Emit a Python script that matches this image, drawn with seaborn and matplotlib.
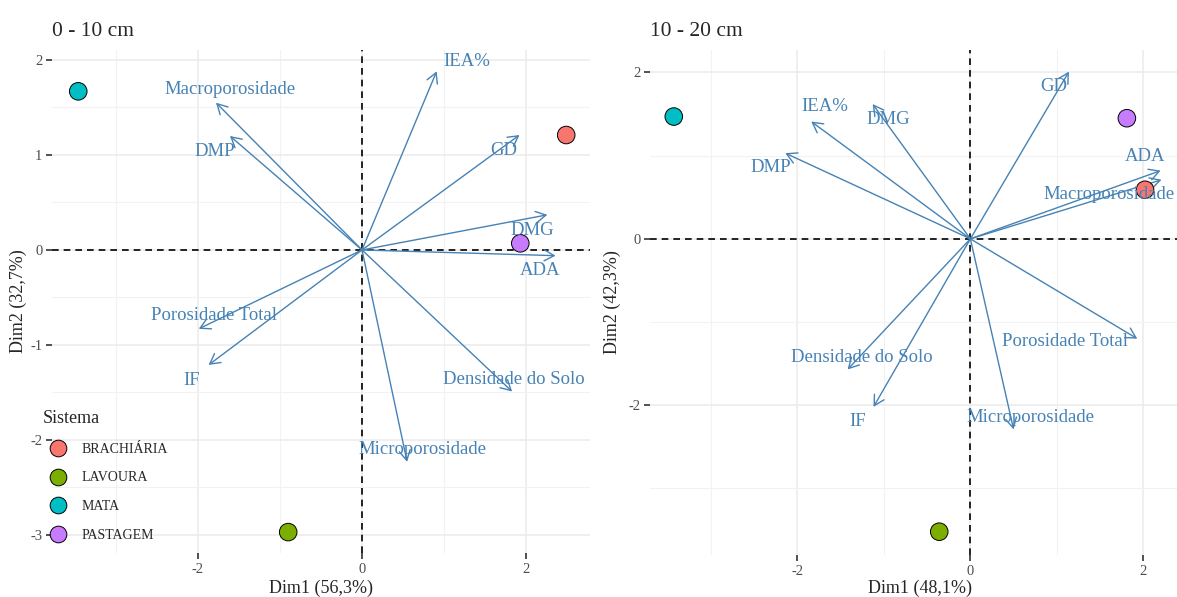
import matplotlib
matplotlib.use("Agg")
import matplotlib.pyplot as plt
from matplotlib.lines import Line2D
from matplotlib.ticker import MultipleLocator
import numpy as np
import pandas as pd
import seaborn as sns

# ---- data -------------------------------------------------------------
sistemas = ["BRACHIÁRIA", "LAVOURA", "MATA", "PASTAGEM"]
cores = ["#F8766D", "#7CAE00", "#00BFC4", "#C77CFF"]

variaveis = ["IEA%", "Macroporosidade", "DMP", "GD", "DMG", "ADA",
             "Porosidade Total", "IF", "Densidade do Solo", "Microporosidade"]

# 0 - 10 cm
ind_dim1_0_10 = [2.49, -0.90, -3.46, 1.93]
ind_dim2_0_10 = [1.21, -2.97, 1.67, 0.07]
var_dim1_0_10 = [0.91, -1.78, -1.61, 1.92, 2.26, 2.36, -1.99, -1.87, 1.83, 0.55]
var_dim2_0_10 = [1.88, 1.55, 1.20, 1.21, 0.37, -0.06, -0.83, -1.21, -1.49, -2.23]

# 10 - 20 cm
ind_dim1_10_20 = [2.02, -0.36, -3.43, 1.81]
ind_dim2_10_20 = [0.59, -3.52, 1.47, 1.45]
var_dim1_10_20 = [-1.84, 2.21, -2.14, 1.14, -1.13, 2.20, 1.93, -1.12, -1.42, 0.50]
var_dim2_10_20 = [1.41, 0.71, 1.03, 2.01, 1.62, 0.82, -1.20, -2.02, -1.57, -2.29]

# label nudges (data units) so the variable names don't sit on the arrow tips
nudge_0_10 = [(0.37, 0.10), (0.17, 0.14), (-0.18, -0.16), (-0.19, -0.16),
              (-0.19, -0.16), (-0.19, -0.16), (0.18, 0.14), (-0.21, -0.16),
              (0.02, 0.13), (0.19, 0.13)]
nudge_10_20 = [(0.16, 0.18), (-0.61, -0.18), (-0.17, -0.17), (-0.18, -0.18),
               (0.18, -0.18), (-0.18, 0.17), (-0.83, -0.03), (-0.18, -0.18),
               (0.17, 0.14), (0.19, 0.14)]

# ---- style ------------------------------------------------------------
sns.set_theme(style="white")
plt.rcParams["font.family"] = ["Liberation Serif", "DejaVu Serif"]
plt.rcParams["axes.unicode_minus"] = False

SETA = "#4682B4"
W, H = 1177, 597
fig = plt.figure(figsize=(W / 100, H / 100), dpi=100)

ax1 = fig.add_axes([52 / W, (H - 553) / H, 538 / W, 503 / H])
ax2 = fig.add_axes([650 / W, (H - 555) / H, 540 / W, 505 / H])


def painel(ax, titulo, d1, d2, v1, v2, nudges, xlab, ylab,
           xlim, ylim, ymajor, yminor, xlab_y, ylab_x, legenda):
    ax.set_xlim(*xlim)
    ax.set_ylim(*ylim)
    ax.xaxis.set_major_locator(MultipleLocator(2))
    ax.xaxis.set_minor_locator(MultipleLocator(1))
    ax.yaxis.set_major_locator(MultipleLocator(ymajor))
    ax.yaxis.set_minor_locator(MultipleLocator(yminor))
    ax.grid(True, which="major", color="#EBEBEB", lw=1.1, zorder=0)
    ax.grid(True, which="minor", color="#F2F2F2", lw=0.8, zorder=0)
    ax.set_axisbelow(True)
    for s in ax.spines.values():
        s.set_visible(False)
    ax.tick_params(which="major", length=4, width=1.2, color="#333333",
                   labelsize=10.5, labelcolor="#4D4D4D", pad=3,
                   bottom=True, left=True)
    ax.tick_params(which="minor", length=0)

    ax.axhline(0, color="black", lw=1.2, ls=(0, (4, 3)), zorder=1)
    ax.axvline(0, color="black", lw=1.2, ls=(0, (4, 3)), zorder=1)

    for nome, x, y, (dx, dy) in zip(variaveis, v1, v2, nudges):
        ax.annotate("", xy=(x, y), xytext=(0, 0),
                    arrowprops=dict(arrowstyle="->,head_length=0.45,head_width=0.25",
                                    color=SETA, lw=1.0, shrinkA=0, shrinkB=0,
                                    mutation_scale=16),
                    zorder=2)
        ax.text(x + dx, y + dy, nome, color=SETA, fontsize=13.5,
                ha="center", va="center", zorder=4)

    df = pd.DataFrame({"Dim1": d1, "Dim2": d2, "Sistema": sistemas})
    sns.scatterplot(data=df, x="Dim1", y="Dim2", hue="Sistema",
                    hue_order=sistemas, palette=cores, s=160,
                    edgecolor="black", linewidth=0.7, legend=False,
                    ax=ax, zorder=3)

    ax.set_title(titulo, loc="left", fontsize=15.5, pad=10)
    ax.set_xlabel(xlab, fontsize=13)
    ax.set_ylabel(ylab, fontsize=13)
    ax.xaxis.set_label_coords(0.5, xlab_y)
    ax.yaxis.set_label_coords(ylab_x, 0.5)

    if legenda:
        alças = [Line2D([], [], ls="none", marker="o", markersize=12,
                        markerfacecolor=c, markeredgecolor="black",
                        markeredgewidth=0.7) for c in cores]
        leg = ax.legend(alças, sistemas, title="Sistema", loc="upper left",
                        bbox_to_anchor=(43 / W, 1 - 410 / H),
                        bbox_transform=fig.transFigure, frameon=False,
                        fontsize=10, title_fontsize=13, handlelength=2.2,
                        handletextpad=0.6, labelspacing=1.13,
                        borderpad=0, borderaxespad=0, alignment="left")
        leg.set_zorder(5)


painel(ax1, "0 - 10 cm", ind_dim1_0_10, ind_dim2_0_10,
       var_dim1_0_10, var_dim2_0_10, nudge_0_10,
       "Dim1 (56,3%)", "Dim2 (32,7%)",
       (-3.78, 2.78), (-3.19, 2.105), 1, 0.5, -0.054, -0.046, True)

painel(ax2, "10 - 20 cm", ind_dim1_10_20, ind_dim2_10_20,
       var_dim1_10_20, var_dim2_10_20, nudge_10_20,
       "Dim1 (48,1%)", "Dim2 (42,3%)",
       (-3.705, 2.54), (-3.80, 2.27), 2, 1, -0.048, -0.054, False)

fig.savefig("out.png", dpi=100)
